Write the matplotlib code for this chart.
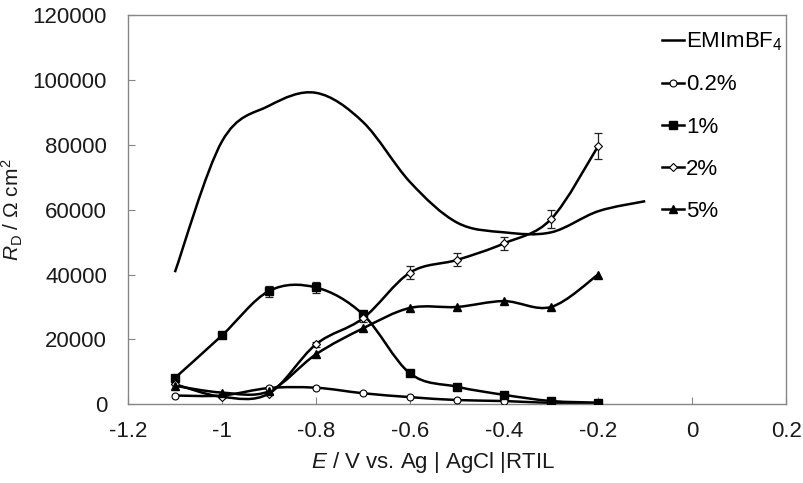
import numpy as np
import matplotlib
matplotlib.use("Agg")
import matplotlib.pyplot as plt
from matplotlib.path import Path
from matplotlib.patches import PathPatch
from matplotlib.lines import Line2D

plt.rcParams['font.family'] = ['Liberation Sans', 'DejaVu Sans']
plt.rcParams['mathtext.fontset'] = 'custom'
plt.rcParams['mathtext.rm'] = 'Liberation Sans'
plt.rcParams['mathtext.it'] = 'Liberation Sans:italic'

# E / V vs. Ag|AgCl|RTIL
E_emim = [-1.1, -1.0, -0.9, -0.8, -0.7, -0.6, -0.5, -0.4, -0.3, -0.2, -0.1]
R_emim = [40700, 81000, 92000, 96000, 87000, 68500, 56000, 53000, 53000, 59500, 62600]

E = [-1.1, -1.0, -0.9, -0.8, -0.7, -0.6, -0.5, -0.4, -0.3, -0.2]
R_02 = [2700, 2700, 5000, 5100, 3400, 2200, 1300, 1000, 400, 200]
R_1 = [8100, 21200, 34900, 36000, 27700, 9500, 5400, 2900, 1000, 500]
R_2 = [6200, 2300, 3300, 18500, 26500, 40600, 44500, 49600, 57100, 79600]
R_5 = [5700, 3600, 4000, 15400, 23400, 29700, 30000, 31800, 30000, 40000]

err_1 = [0, 0, 1700, 1700, 0, 0, 0, 0, 0, 0]
err_2 = [0, 0, 0, 800, 1200, 2100, 2000, 2000, 2800, 4100]

labels = ['EMImBF$_4$', '0.2%', '1%', '2%', '5%']


def smooth(x, y):
    # Excel-like smoothed line: Catmull-Rom segments as cubic Bezier
    n = len(x)
    verts = [(x[0], y[0])]
    codes = [Path.MOVETO]
    for i in range(n - 1):
        xa, ya = (x[i - 1], y[i - 1]) if i > 0 else (x[i], y[i])
        xb, yb = (x[i + 2], y[i + 2]) if i + 2 < n else (x[i + 1], y[i + 1])
        c1 = (x[i] + (x[i + 1] - xa) / 6, y[i] + (y[i + 1] - ya) / 6)
        c2 = (x[i + 1] - (xb - x[i]) / 6, y[i + 1] - (yb - y[i]) / 6)
        verts += [c1, c2, (x[i + 1], y[i + 1])]
        codes += [Path.CURVE4] * 3
    return Path(verts, codes)


fig = plt.figure(figsize=(8.04, 4.83), dpi=100)
ax = fig.add_axes([0.159, 0.163, 0.819, 0.806])

fs = 16
lw = 1.8
for xs, ys in [(E_emim, R_emim), (E, R_02), (E, R_1), (E, R_2), (E, R_5)]:
    ax.add_patch(PathPatch(smooth(xs, ys), facecolor='none', edgecolor='black', lw=lw, zorder=2))

ax.errorbar(E, R_1, yerr=err_1, fmt='none', ecolor='#222222', elinewidth=0.9, capsize=3, capthick=0.9, zorder=3)
ax.errorbar(E, R_2, yerr=err_2, fmt='none', ecolor='#222222', elinewidth=0.9, capsize=3, capthick=0.9, zorder=3)

styles = {
    '0.2%': dict(marker='o', markersize=5, markerfacecolor='white', markeredgecolor='black', markeredgewidth=0.8),
    '1%': dict(marker='s', markersize=5.5, markerfacecolor='black', markeredgecolor='black'),
    '2%': dict(marker='D', markersize=4, markerfacecolor='white', markeredgecolor='black', markeredgewidth=0.8),
    '5%': dict(marker='^', markersize=5.5, markerfacecolor='black', markeredgecolor='black'),
}
for ys, lab in [(R_02, '0.2%'), (R_1, '1%'), (R_2, '2%'), (R_5, '5%')]:
    ax.plot(E, ys, linestyle='none', zorder=4, **styles[lab])

handles = [Line2D([], [], color='black', lw=lw)]
for lab in labels[1:]:
    handles.append(Line2D([], [], color='black', lw=lw, **styles[lab]))
ax.legend(handles, labels, loc='upper left', bbox_to_anchor=(0.794, 0.988), frameon=False,
          fontsize=fs, handlelength=1.0, handletextpad=0.1, labelspacing=0.95,
          borderpad=0, numpoints=1)

ax.set_xlim(-1.2, 0.2)
ax.set_ylim(0, 120000)
ax.set_xticks([-1.2, -1.0, -0.8, -0.6, -0.4, -0.2, 0, 0.2])
ax.set_xticklabels(['-1.2', '-1', '-0.8', '-0.6', '-0.4', '-0.2', '0', '0.2'])
ax.set_yticks(np.arange(0, 120001, 20000))

for s in ax.spines.values():
    s.set_color('#868686')
    s.set_linewidth(1.0)
ax.tick_params(direction='in', length=5, color='#868686', labelsize=fs, labelcolor='#1a1a1a')
ax.tick_params(axis='y', pad=15)
ax.tick_params(axis='x', pad=12)

ax.set_xlabel('$E$ / V vs. Ag | AgCl |RTIL', fontsize=fs, x=0.464, labelpad=6, color='#1a1a1a')
ax.set_ylabel('$R_\\mathrm{D}$ / Ω cm$^2$', fontsize=15, color='#1a1a1a')
ax.yaxis.set_label_coords(-0.156, 0.5)

fig.savefig('out.png', dpi=100)
